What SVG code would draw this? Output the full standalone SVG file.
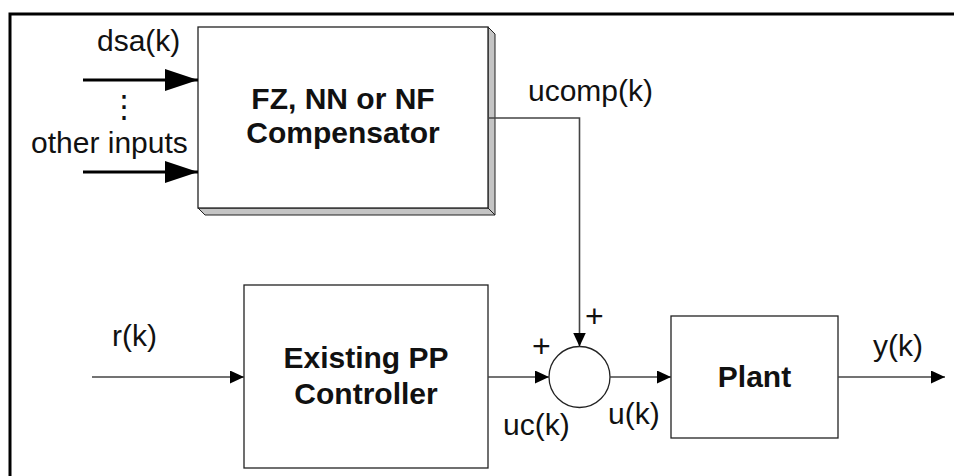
<svg xmlns="http://www.w3.org/2000/svg" width="954" height="476" viewBox="0 0 954 476">
<defs>
<marker id="bigArrow" markerUnits="userSpaceOnUse" markerWidth="34" markerHeight="22" refX="33" refY="11" orient="auto">
<path d="M0,0 L33,11 L0,22 Z" fill="#000"/>
</marker>
<marker id="arrow" markerUnits="userSpaceOnUse" markerWidth="15" markerHeight="13" refX="14" refY="6.5" orient="auto">
<path d="M0,0 L14,6.5 L0,13 Z" fill="#000"/>
</marker>
</defs>
<style>
.lbl{font-family:"Liberation Sans",Arial,sans-serif;font-size:30px;fill:#111}
.plus{font-family:"Liberation Sans",Arial,sans-serif;font-size:32px;fill:#111}
.bold{font-family:"Liberation Sans",Arial,sans-serif;font-size:30px;font-weight:bold;fill:#111;text-anchor:middle}
.box{fill:#fff;stroke:#222;stroke-width:1.3}
.shade{fill:#c4c4c4;stroke:#222;stroke-width:1}
.thick{stroke:#000;stroke-width:3;fill:none}
.wire{stroke:#444;stroke-width:1.6;fill:none}
</style>
<rect width="954" height="476" fill="#fff"/>
<path d="M10,476 L10,14 L954,14" fill="none" stroke="#000" stroke-width="3"/>

<g id="compensator">
<polygon class="shade" points="488,27 495,34 495,215 488,208"/>
<polygon class="shade" points="198,208 488,208 495,215 205,215"/>
<rect class="box" x="198" y="27" width="290" height="181"/>
<text class="bold" x="343" y="109">FZ, NN or NF</text>
<text class="bold" x="343" y="143">Compensator</text>
</g>

<g id="controller">
<rect class="box" x="244" y="285" width="244" height="183"/>
<text class="bold" x="366" y="368">Existing PP</text>
<text class="bold" x="366" y="404">Controller</text>
</g>

<g id="sum">
<circle cx="579.5" cy="377" r="30.5" fill="#fff" stroke="#222" stroke-width="1.3"/>
</g>

<g id="plant">
<rect class="box" x="671" y="316" width="167" height="122"/>
<text class="bold" x="754.5" y="387">Plant</text>
</g>

<g id="connectors">
<line class="thick" x1="83" y1="80" x2="198" y2="80" marker-end="url(#bigArrow)"/>
<line class="thick" x1="83" y1="172" x2="198" y2="172" marker-end="url(#bigArrow)"/>
<polyline class="wire" points="488,118 579.5,118 579.5,346.5" marker-end="url(#arrow)"/>
<line class="wire" x1="92" y1="377" x2="244" y2="377" marker-end="url(#arrow)"/>
<line class="wire" x1="488" y1="377" x2="549" y2="377" marker-end="url(#arrow)"/>
<line class="wire" x1="610" y1="377" x2="671" y2="377" marker-end="url(#arrow)"/>
<line class="wire" x1="838" y1="377" x2="945" y2="377" marker-end="url(#arrow)"/>
</g>

<g id="labels">
<text class="lbl" x="97" y="51">dsa(k)</text>
<text x="124" y="117" text-anchor="middle" font-family="DejaVu Sans, sans-serif" font-size="31" fill="#111">⋮</text>
<text class="lbl" x="31" y="153">other inputs</text>
<text class="lbl" x="528" y="101">ucomp(k)</text>
<text class="lbl" x="112" y="346">r(k)</text>
<text class="plus" x="532" y="357">+</text>
<text class="plus" x="585" y="327">+</text>
<text class="lbl" x="503" y="435">uc(k)</text>
<text class="lbl" x="608" y="424">u(k)</text>
<text class="lbl" x="873" y="356">y(k)</text>
</g>
</svg>
